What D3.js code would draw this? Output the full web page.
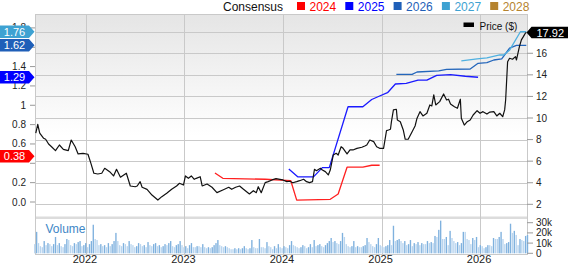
<!DOCTYPE html>
<html><head><meta charset="utf-8">
<script src="https://cdn.jsdelivr.net/npm/d3@7"></script>
<style>body{margin:0;background:#fff}svg{display:block}</style>
</head><body>
<svg id="c" width="568" height="264"></svg>
<script>
// ---------- data (decimal years) ----------
const priceT = [2021.49,2021.51,2021.53,2021.57,2021.59,2021.62,2021.65,2021.69,2021.73,2021.77,2021.82,2021.85,2021.89,2021.92,2021.97,2022.02,2022.05,2022.08,2022.12,2022.16,2022.19,2022.24,2022.28,2022.31,2022.35,2022.41,2022.45,2022.50,2022.52,2022.55,2022.57,2022.62,2022.67,2022.73,2022.77,2022.82,2022.87,2022.92,2022.95,2022.99,2023.01,2023.04,2023.07,2023.10,2023.12,2023.16,2023.18,2023.23,2023.28,2023.33,2023.39,2023.45,2023.48,2023.52,2023.56,2023.60,2023.66,2023.70,2023.73,2023.75,2023.78,2023.82,2023.85,2023.89,2023.93,2023.97,2024.00,2024.04,2024.07,2024.10,2024.14,2024.17,2024.21,2024.24,2024.27,2024.30,2024.32,2024.34,2024.38,2024.40,2024.43,2024.46,2024.48,2024.51,2024.54,2024.56,2024.59,2024.61,2024.65,2024.68,2024.71,2024.75,2024.80,2024.83,2024.85,2024.88,2024.92,2024.95,2024.98,2025.02,2025.05,2025.07,2025.09,2025.10,2025.12,2025.15,2025.16,2025.19,2025.22,2025.24,2025.27,2025.31,2025.34,2025.36,2025.39,2025.42,2025.46,2025.49,2025.51,2025.53,2025.55,2025.59,2025.63,2025.66,2025.68,2025.70,2025.74,2025.77,2025.80,2025.81,2025.84,2025.87,2025.90,2025.93,2025.97,2026.00,2026.03,2026.07,2026.10,2026.14,2026.17,2026.20,2026.23,2026.25,2026.26,2026.28,2026.30,2026.33,2026.36,2026.37,2026.40,2026.42,2026.44,2026.46,2026.47];
const priceV = [8.59,9.42,8.59,8.12,8.03,7.59,7.34,6.97,7.50,7.10,6.97,7.96,7.34,6.67,6.73,6.64,5.80,4.88,4.81,4.88,5.34,5.03,4.63,5.25,4.51,4.88,3.70,3.63,3.70,4.10,3.58,3.39,2.86,2.40,2.71,3.02,3.39,3.70,3.95,3.79,4.63,4.41,4.63,4.32,4.41,4.56,3.70,3.88,3.58,3.08,3.33,3.58,3.39,3.58,3.70,3.39,2.96,3.26,3.08,3.63,3.08,4.01,4.10,4.26,4.38,4.32,4.26,4.10,4.14,4.00,4.10,4.19,4.32,4.10,4.01,4.10,5.25,5.12,5.34,5.18,5.03,4.72,5.18,6.57,6.73,6.57,7.34,7.19,6.67,7.04,7.04,7.19,7.29,7.41,7.50,7.96,7.81,7.34,7.19,7.19,8.83,8.89,8.96,9.66,10.75,10.81,9.82,9.66,8.89,8.03,8.03,8.73,9.26,9.98,10.59,10.19,10.44,11.21,11.12,12.14,11.21,11.52,12.23,11.67,11.74,11.30,11.05,10.90,11.74,9.98,9.35,9.66,9.82,10.28,10.68,10.44,10.59,10.37,10.55,10.59,10.19,10.44,10.12,10.75,11.67,15.22,15.54,15.45,15.69,15.38,16.61,17.24,17.54,17.86,17.92];

const eps2024T = [2023.31,2023.39,2023.82,2024.08,2024.14,2024.48,2024.56,2024.65,2024.81,2024.90,2024.98];
const eps2024V = [0.30,0.245,0.235,0.22,0.02,0.028,0.083,0.36,0.36,0.38,0.38];
const eps2025T = [2024.06,2024.15,2024.31,2024.40,2024.47,2024.66,2024.81,2024.90,2024.98,2025.06,2025.14,2025.25,2025.37,2025.46,2025.56,2025.70,2025.85,2025.98];
const eps2025V = [0.34,0.26,0.26,0.355,0.355,0.985,0.985,1.06,1.096,1.13,1.22,1.227,1.26,1.26,1.31,1.316,1.30,1.29];
const eps2026T = [2025.15,2025.31,2025.36,2025.58,2025.66,2025.90,2025.98,2026.07,2026.14,2026.22,2026.30,2026.37,2026.47];
const eps2026V = [1.32,1.32,1.344,1.355,1.372,1.375,1.434,1.44,1.468,1.48,1.59,1.62,1.62];
const eps2027T = [2025.81,2025.97,2026.07,2026.20,2026.24,2026.30,2026.41,2026.47];
const eps2027V = [1.46,1.48,1.49,1.52,1.52,1.57,1.76,1.76];

const consensusYears = ["2024","2025","2026","2027","2028"];
const consensusLast = [0.38,1.29,1.62,1.76,null];
const lastPrice = 17.92;

// weekly volume (thousands), starting week of 2021-06-25
const volumeStart = "2021-06-25";
const volumeK = [9,21,10,7,6,12,8,10,9,7,9,16,8,10,7,6,9,14,13,8,7,10,9,11,12,7,8,10,6,9,12,28,14,13,8,9,7,8,6,10,7,9,12,20,12,8,7,10,9,7,12,9,8,6,7,10,9,7,8,6,11,8,7,9,10,
7,8,6,7,9,8,10,12,7,6,8,9,12,8,6,7,5,8,10,6,6,7,7,6,9,6,5,6,5,6,8,10,13,8,7,6,7,6,5,4,4,5,4,5,4,5,7,5,4,5,13,6,5,5,14,6,6,5,11,7,6,4,7,5,9,
6,5,7,6,5,8,12,8,7,6,5,6,8,7,5,6,9,6,13,7,8,9,7,6,8,10,12,15,11,12,10,9,12,20,16,9,7,6,7,12,6,7,6,6,7,8,15,11,9,7,6,9,15,8,7,6,7,8,13,8,27,12,13,14,12,
10,12,8,9,13,7,10,9,11,8,10,9,9,12,10,11,10,17,16,23,32,14,14,16,8,22,15,12,10,11,8,10,21,21,14,13,9,15,13,16,6,8,7,5,6,8,8,7,15,14,14,16,21,14,9,10,11,29,20,22,18,8,14,13,12,17,18];

const priceTicks = [2,4,6,8,10,12,14,16];
const priceGrid = [2,4,6,8,10,12,14,16,18];
const epsTicks = [0,0.2,0.4,0.6,0.8,1,1.2,1.4,1.6,1.8];
const epsTickLabels = ["0.0","0.2","","0.6","0.8","1","1.2","1.4","","1.8"];
const volTicks = [0,10,20,30];
const volTickLabels = ["0","10k","20k","30k"];
const yearTicks = [2022,2023,2024,2025,2026];

// ---------- helpers ----------
function dy(v){const y=Math.floor(v);const s=new Date(y,0,1),e=new Date(y+1,0,1);return new Date(+s+(v-y)*(e-s));}
const colors = {"2024":"#ff0000","2025":"#0000ff","2026":"#1f5fb8","2027":"#3ea2d2","2028":"#b5832f"};
const lineColors = {"2024":"#ff2020","2025":"#1a1aff","2026":"#2466bb","2027":"#4fb0e0"};

const L=35,R=527,T=14,MB=217,VB=254;
const svg = d3.select("#c").style("font-family","'Liberation Sans',Arial,sans-serif");

const x = d3.scaleTime().domain([dy(2021.482),dy(2026.477)]).range([L,R]);
const yP = d3.scaleLinear().domain([0,18]).range([225.9,31.7]);
const yE = d3.scaleLinear().domain([0,1.8]).range([202,27.9]);
const yV = d3.scaleLinear().domain([0,30]).range([253.3,222.7]);

const defs = svg.append("defs");
const g = defs.append("linearGradient").attr("id","bg").attr("x1",0).attr("y1",0).attr("x2",0).attr("y2",1);
g.append("stop").attr("offset","0%").attr("stop-color","#e5e5e5");
g.append("stop").attr("offset","60%").attr("stop-color","#ffffff");
defs.append("clipPath").attr("id","clip").append("rect").attr("x",L).attr("y",T).attr("width",R-L).attr("height",MB-T);

// panels
svg.append("rect").attr("x",L).attr("y",T).attr("width",R-L).attr("height",MB-T).attr("fill","url(#bg)");
svg.append("rect").attr("x",L).attr("y",216.5).attr("width",R-L).attr("height",2.5).attr("fill","#dcdcdc");

// grid
const grid = svg.append("g").attr("stroke","#c9c9c9").attr("stroke-width",1).attr("shape-rendering","crispEdges");
priceGrid.forEach(v=>grid.append("line").attr("x1",L).attr("x2",R).attr("y1",Math.round(yP(v))+0.5).attr("y2",Math.round(yP(v))+0.5));
yearTicks.forEach(v=>{const xx=Math.round(x(dy(v)))+0.5;grid.append("line").attr("x1",xx).attr("x2",xx).attr("y1",T).attr("y2",VB);});
grid.append("line").attr("x1",L).attr("x2",R).attr("y1",T+0.5).attr("y2",T+0.5);
grid.append("line").attr("x1",L).attr("x2",R).attr("y1",VB+0.5).attr("y2",VB+0.5);
grid.append("line").attr("x1",L+0.5).attr("x2",L+0.5).attr("y1",T).attr("y2",VB+1);
grid.append("line").attr("x1",R+0.5).attr("x2",R+0.5).attr("y1",T).attr("y2",VB+1);

// volume bars
const vStart = new Date(volumeStart+"T00:00:00");
const vDates = volumeK.map((v,i)=>d3.timeDay.offset(vStart,i*7));
const bw = (x(vDates[1])-x(vDates[0]))*0.72;
svg.append("g").selectAll("rect").data(volumeK).join("rect")
  .attr("x",(d,i)=>x(vDates[i])-bw/2).attr("width",bw)
  .attr("y",d=>yV(d)).attr("height",d=>yV(0)-yV(d))
  .attr("fill",(d,i)=> (i>0 && d>volumeK[i-1]) ? "#7fb1de" : "#b9d5ef");
svg.append("text").attr("x",45.5).attr("y",233).attr("font-size",12).attr("fill","#3d86c6").text("Volume");

// lines
const plot = svg.append("g").attr("clip-path","url(#clip)");
function drawLine(ts,vs,y,color,w){
  const line=d3.line().x(d=>x(dy(d[0]))).y(d=>y(d[1]));
  plot.append("path").datum(ts.map((t,i)=>[t,vs[i]])).attr("d",line).attr("fill","none").attr("stroke",color).attr("stroke-width",w).attr("stroke-linejoin","round");
}
drawLine(eps2024T,eps2024V,yE,lineColors["2024"],1.3);
drawLine(eps2025T,eps2025V,yE,lineColors["2025"],1.3);
drawLine(eps2026T,eps2026V,yE,lineColors["2026"],1.3);
drawLine(eps2027T,eps2027V,yE,lineColors["2027"],1.3);
drawLine(priceT,priceV,yP,"#111",1.2);

// left axis
const la = svg.append("g").attr("font-size",10).attr("fill","#222");
epsTicks.forEach((v,i)=>{
  la.append("line").attr("x1",30).attr("x2",L).attr("y1",yE(v)).attr("y2",yE(v)).attr("stroke","#999");
  if(epsTickLabels[i]) la.append("text").attr("x",26).attr("y",yE(v)).attr("dy","0.35em").attr("text-anchor","end").text(epsTickLabels[i]);
});
// right axis
const ra = svg.append("g").attr("font-size",10).attr("fill","#222");
priceTicks.forEach(v=>{
  ra.append("line").attr("x1",R).attr("x2",R+6).attr("y1",yP(v)).attr("y2",yP(v)).attr("stroke","#999");
  ra.append("text").attr("x",R+9).attr("y",yP(v)).attr("dy","0.35em").text(v);
});
volTicks.forEach((v,i)=>{
  ra.append("line").attr("x1",R).attr("x2",R+6).attr("y1",yV(v)).attr("y2",yV(v)).attr("stroke","#999");
  ra.append("text").attr("x",R+9).attr("y",yV(v)).attr("dy","0.35em").text(volTickLabels[i]);
});
// x axis
svg.append("g").attr("font-size",11).attr("fill","#222").selectAll("text").data(yearTicks).join("text")
  .attr("x",d=>x(dy(d))-1).attr("y",263).attr("text-anchor","middle").text(d=>d);

// consensus badges on the left
const badgeNudge = {"2024":-9};
consensusYears.forEach((yr,i)=>{
  const v=consensusLast[i]; if(v==null) return;
  const cy = yE(v)+(badgeNudge[yr]||0);
  const h=12.5;
  svg.append("path").attr("d",`M0,${cy-h/2}H29L34.5,${cy}L29,${cy+h/2}H0Z`).attr("fill",colors[yr]);
  svg.append("text").attr("x",14.5).attr("y",cy).attr("dy","0.36em").attr("text-anchor","middle").attr("font-size",11).attr("fill","#fff").text(v.toFixed(2));
});
// price badge
{const cy=yP(lastPrice);
 svg.append("path").attr("d",`M526.5,${cy}L531.5,${cy-5.8}H568V${cy+5.8}H531.5Z`).attr("fill","#000");
 svg.append("text").attr("x",536.5).attr("y",cy).attr("dy","0.36em").attr("font-size",11).attr("fill","#fff").text(lastPrice.toFixed(2));}

// legends
svg.append("text").attr("x",223).attr("y",10.5).attr("font-size",12).attr("fill","#111").text("Consensus");
consensusYears.forEach((yr,i)=>{
  const sx=297+i*48.3;
  svg.append("rect").attr("x",sx).attr("y",2).attr("width",8).attr("height",8).attr("fill",colors[yr]);
  svg.append("text").attr("x",sx+12.5).attr("y",10.5).attr("font-size",12).attr("fill",colors[yr]).text(yr);
});
svg.append("rect").attr("x",463.5).attr("y",22.5).attr("width",10.5).attr("height",4.5).attr("fill","#000");
svg.append("text").attr("x",479.5).attr("y",29.5).attr("font-size",10).attr("fill","#111").text("Price ($)");
</script>
</body></html>
